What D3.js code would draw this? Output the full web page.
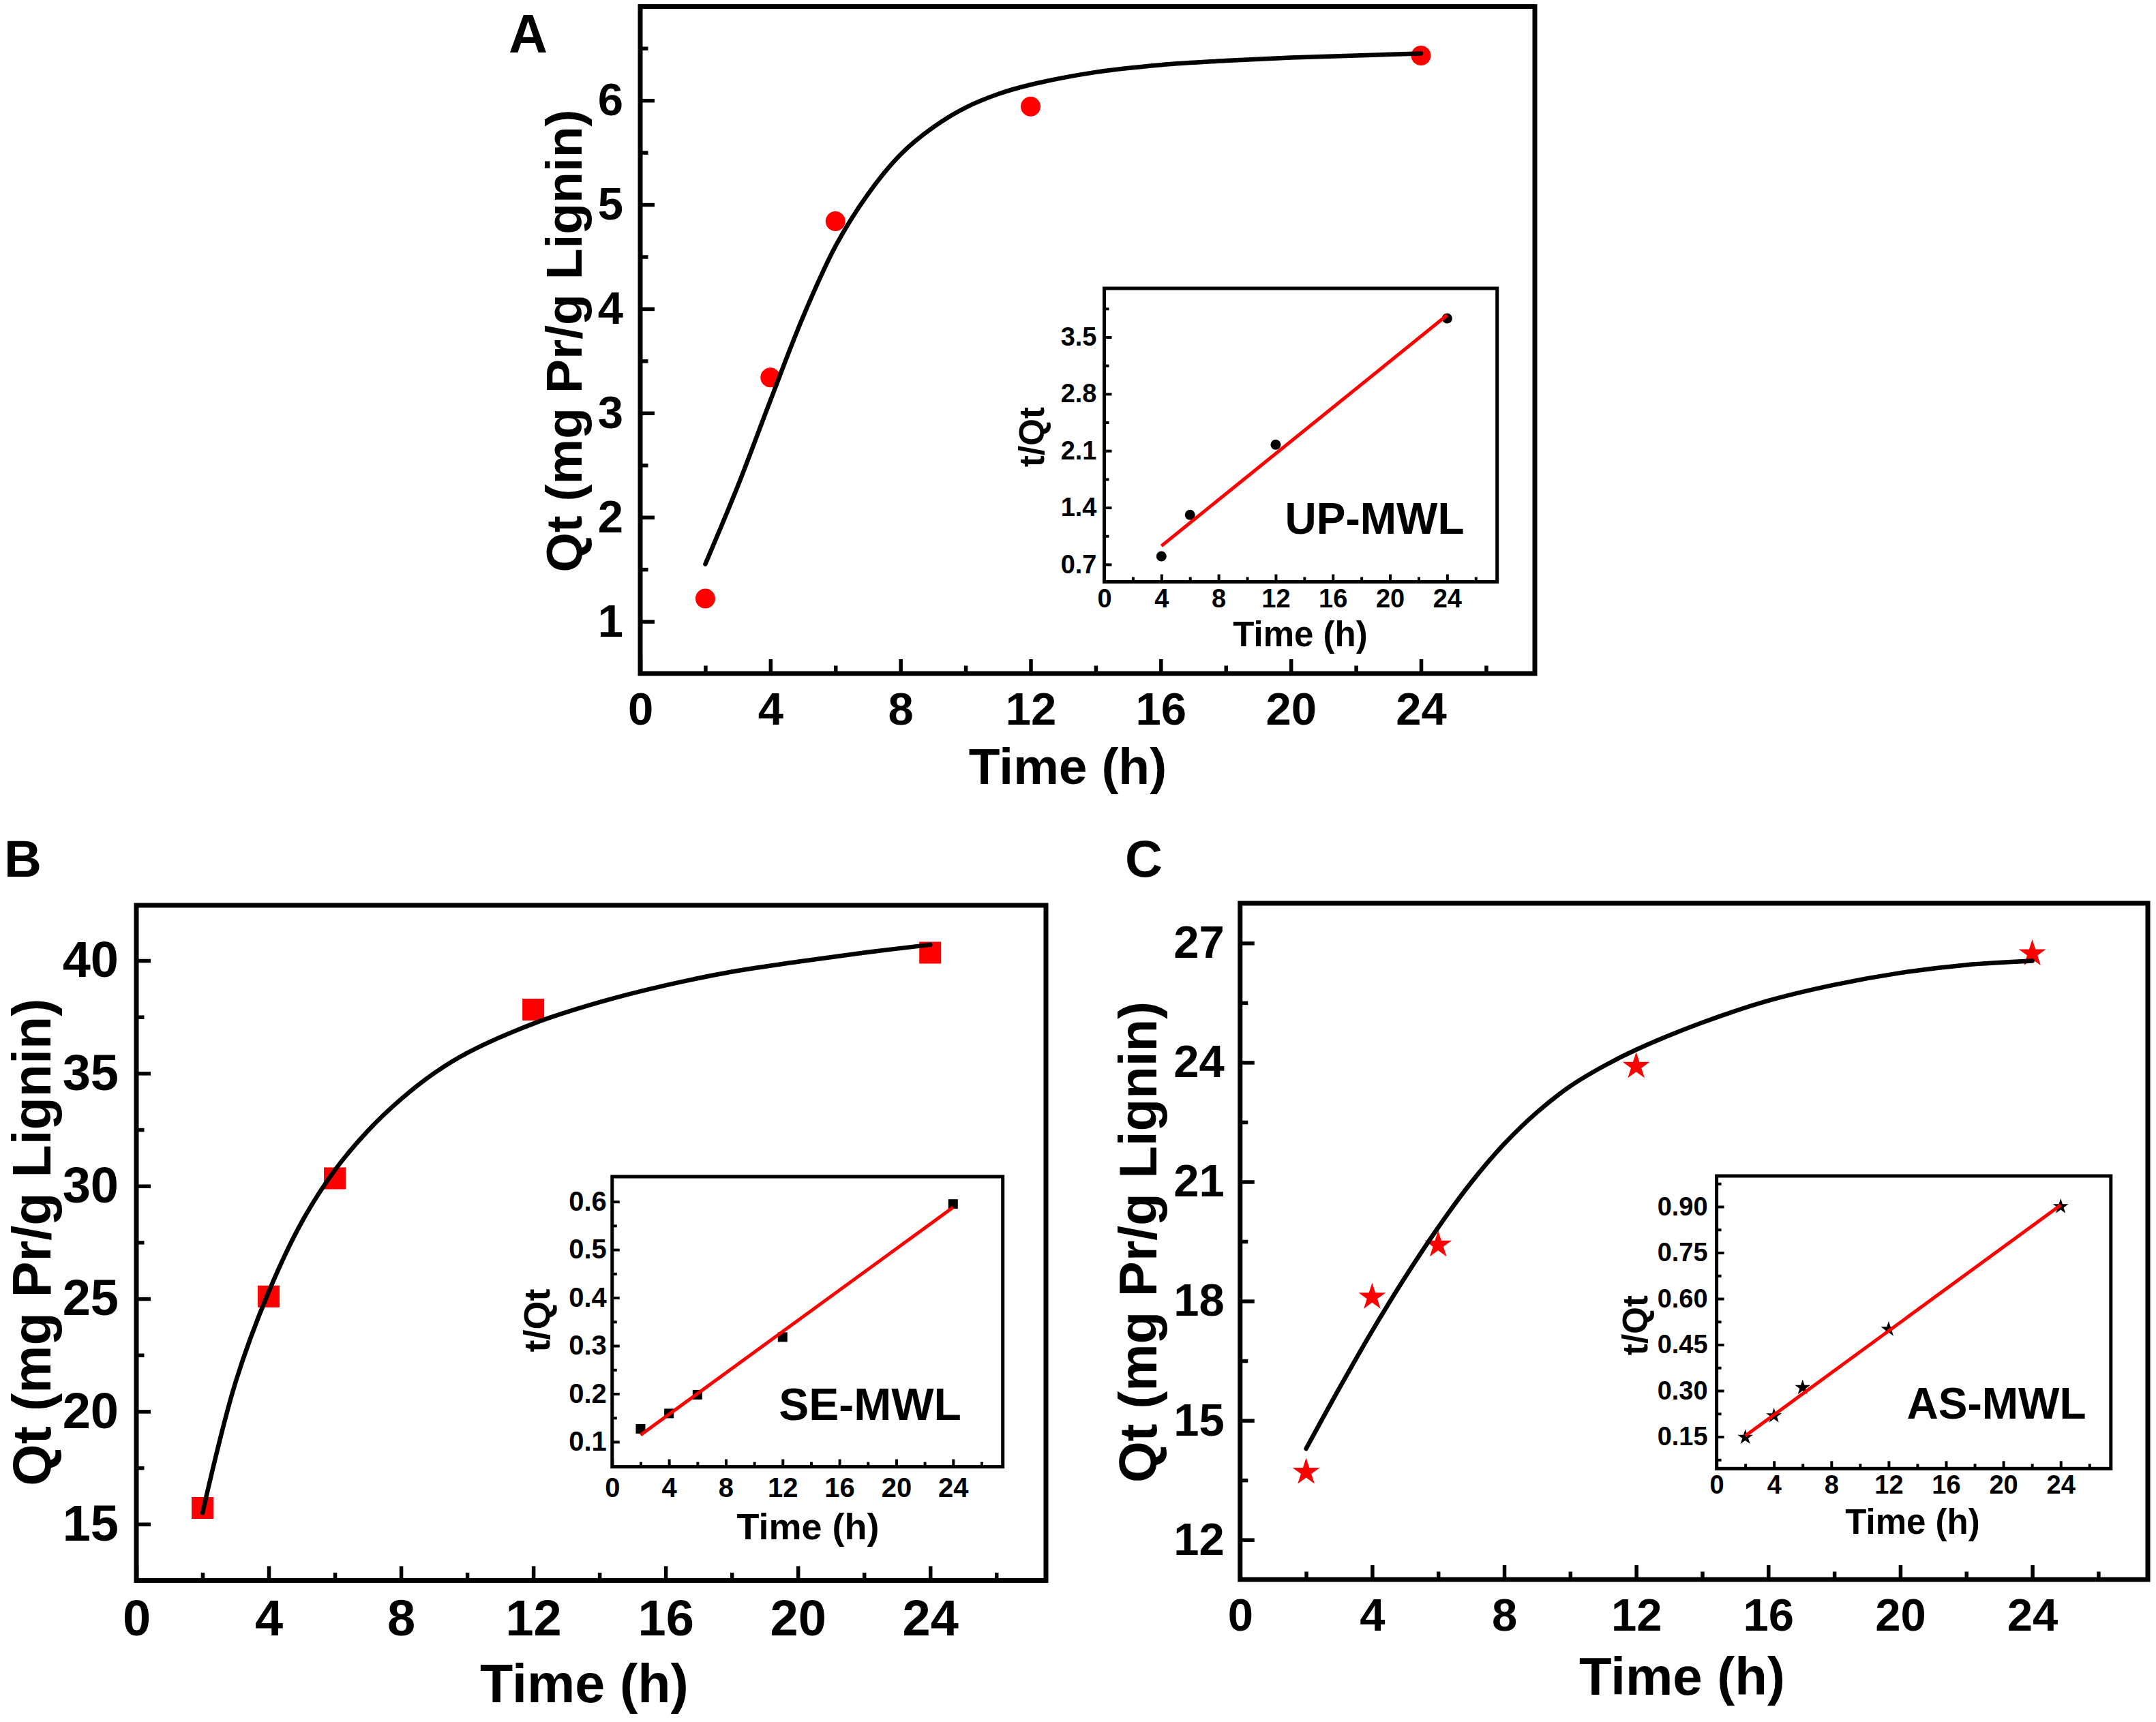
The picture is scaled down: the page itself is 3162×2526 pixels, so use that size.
<!DOCTYPE html>
<html>
<head>
<meta charset="utf-8">
<script src="https://cdn.jsdelivr.net/npm/d3@7"></script>
<style>
  body { margin: 0; background: #fff; }
  svg text { font-family: "Liberation Sans", Arial, Helvetica, sans-serif; font-weight: bold; }
</style>
</head>
<body>
<svg id="chart" width="3162" height="2526"></svg>
<script>
// ---- data ----
// sampling times (h)
const times = [2, 4, 6, 12, 24];
const timeTicks = [0, 4, 8, 12, 16, 20, 24];
const timeMinor = [2, 6, 10, 14, 18, 22, 26];

// Qt (mg Pr/g Lignin) measured points
const qtUP = [1.22, 3.34, 4.84, 5.94, 6.43];
const qtSE = [15.72, 25.1, 30.34, 37.82, 40.35];
const qtAS = [13.7, 18.1, 19.41, 23.9, 26.73];

// fitted curves
const fitTimesUP = [2, 3, 4, 5, 6, 7, 8, 9, 10, 11, 12, 14, 16, 18, 20, 22, 24];
const fitUP = [1.55, 2.3, 3.12, 3.92, 4.6, 5.1, 5.48, 5.74, 5.93, 6.06, 6.15, 6.27, 6.34, 6.38, 6.41, 6.43, 6.45];
const fitTimesSE = [2, 3, 4, 5, 6, 7, 8, 9, 10, 12, 14, 16, 18, 20, 22, 24];
const fitSE = [15.5, 21.3, 25.3, 28.4, 30.7, 32.45, 33.85, 35.0, 35.9, 37.2, 38.15, 38.9, 39.5, 39.95, 40.35, 40.7];
const fitTimesAS = [2, 3, 4, 5, 6, 7, 8, 9, 10, 11, 12, 14, 16, 18, 20, 22, 24];
const fitAS = [14.29, 15.8, 17.25, 18.6, 19.85, 20.98, 21.95, 22.75, 23.4, 23.9, 24.32, 25.0, 25.55, 25.95, 26.25, 26.45, 26.55];

// y ticks of the main panels
const qtTicksUP = [1, 2, 3, 4, 5, 6];
const qtMinorUP = [1.5, 2.5, 3.5, 4.5, 5.5, 6.5];
const qtTicksSE = [15, 20, 25, 30, 35, 40];
const qtMinorSE = [17.5, 22.5, 27.5, 32.5, 37.5];
const qtTicksAS = [12, 15, 18, 21, 24, 27];
const qtMinorAS = [13.5, 16.5, 19.5, 22.5, 25.5];

// insets: t/Qt
const insetTimesUP = [4, 6, 12, 24];
const tqUP = [0.8, 1.31, 2.175, 3.73];
const insetTimesSE = [2, 4, 6, 12, 24];
const tqSE = [0.127, 0.159, 0.198, 0.318, 0.595];
const insetTimesAS = [2, 4, 6, 12, 24];
const tqAS = [0.148, 0.218, 0.31, 0.5, 0.9];

// linear fits (end points)
const lineTimesUP = [4, 24];
const lineUP = [0.927, 3.77];
const lineTimesSE = [2, 24];
const lineSE = [0.114, 0.588];
const lineTimesAS = [2, 24];
const lineAS = [0.153, 0.905];

const tqTicksUP = [0.7, 1.4, 2.1, 2.8, 3.5];
const tqMinorUP = [1.05, 1.75, 2.45, 3.15, 3.85];
const tqTicksSE = [0.1, 0.2, 0.3, 0.4, 0.5, 0.6];
const tqMinorSE = [0.15, 0.25, 0.35, 0.45, 0.55];
const tqTicksAS = [0.15, 0.30, 0.45, 0.60, 0.75, 0.90];
const tqMinorAS = [0.075, 0.225, 0.375, 0.525, 0.675, 0.825, 0.975];

const RED = "#ff0000";
const svg = d3.select("#chart");

// draw inward ticks (major with labels, minor without), and the box
function axes(g, x, y, o) {
    const bottom = y.range()[0], top = y.range()[1];
    const left = x.range()[0], right = x.range()[1];

    const xg = g.append("g").attr("transform", `translate(0,${bottom})`)
        .call(d3.axisBottom(x).tickValues(timeTicks).tickSize(-o.major)
            .tickPadding(o.padX).tickFormat(d3.format("d")));
    const xm = g.append("g").attr("transform", `translate(0,${bottom})`)
        .call(d3.axisBottom(x).tickValues(timeMinor).tickSize(-o.minor).tickFormat(""));
    const yg = g.append("g").attr("transform", `translate(${left},0)`)
        .call(d3.axisLeft(y).tickValues(o.yTicks).tickSize(-o.major)
            .tickPadding(o.padY).tickFormat(d3.format(o.fmt)));
    const ym = g.append("g").attr("transform", `translate(${left},0)`)
        .call(d3.axisLeft(y).tickValues(o.yMinor).tickSize(-o.minor).tickFormat(""));

    [xg, xm, yg, ym].forEach(a => {
        a.select(".domain").remove();
        a.attr("font-family", null).attr("font-size", o.tickFont);
        a.selectAll("line").attr("stroke", "#000").attr("stroke-width", o.tickWidth);
        a.selectAll("text").attr("fill", "#000");
    });

    g.append("rect")
        .attr("x", left).attr("y", top)
        .attr("width", right - left).attr("height", bottom - top)
        .attr("fill", "none").attr("stroke", "#000")
        .attr("stroke-width", o.frame);
}

function titles(g, o) {
    g.append("text")
        .attr("x", o.xTitle[0]).attr("y", o.xTitle[1])
        .attr("text-anchor", "middle").attr("font-size", o.titleFont)
        .text("Time (h)");
    g.append("text")
        .attr("transform", `translate(${o.yTitle[0]},${o.yTitle[1]}) rotate(-90)`)
        .attr("text-anchor", "middle").attr("font-size", o.titleFont)
        .text(o.yLabel);
}

function mainPanel(o) {
    const g = svg.append("g");
    const x = d3.scaleLinear().domain([0, 27.5]).range(o.xRange);
    const y = d3.scaleLinear().domain(o.yDomain).range(o.yRange);

    axes(g, x, y, {
        major: 21, minor: 11.5, tickWidth: 5.5, frame: 7,
        padX: o.padX, padY: o.padY, tickFont: o.tickFont,
        yTicks: o.yTicks, yMinor: o.yMinor, fmt: "d"
    });

    // markers
    g.selectAll(".pt").data(times.map((t, i) => [t, o.values[i]]))
        .enter().append("path")
        .attr("transform", d => `translate(${x(d[0])},${y(d[1])})`)
        .attr("d", d3.symbol().type(o.symbol).size(o.symbolSize))
        .attr("fill", RED);

    // fitted curve on top
    g.append("path")
        .datum(o.fitTimes.map((t, i) => [t, o.fit[i]]))
        .attr("fill", "none").attr("stroke", "#000").attr("stroke-width", 6.5)
        .attr("stroke-linecap", "round")
        .attr("d", d3.line().x(d => x(d[0])).y(d => y(d[1])).curve(d3.curveCatmullRom.alpha(0.5)));

    titles(g, {xTitle: o.xTitle, yTitle: o.yTitle, titleFont: o.titleFont,
        yLabel: "Qt (mg Pr/g Lignin)"});

    g.append("text").attr("x", o.letter[0]).attr("y", o.letter[1])
        .attr("font-size", o.letterFont).text(o.name);
}

function inset(o) {
    const g = svg.append("g");
    const x = d3.scaleLinear().domain([0, 27.5]).range(o.xRange);
    const y = d3.scaleLinear().domain(o.yDomain).range(o.yRange);

    g.append("rect")
        .attr("x", o.xRange[0]).attr("y", o.yRange[1])
        .attr("width", o.xRange[1] - o.xRange[0]).attr("height", o.yRange[0] - o.yRange[1])
        .attr("fill", "#fff");

    axes(g, x, y, {
        major: 11, minor: 7, tickWidth: 4, frame: 5,
        padX: o.padX, padY: o.padY, tickFont: o.tickFont,
        yTicks: o.yTicks, yMinor: o.yMinor, fmt: o.fmt
    });

    g.selectAll(".pt").data(o.times.map((t, i) => [t, o.values[i]]))
        .enter().append("path")
        .attr("transform", d => `translate(${x(d[0])},${y(d[1])})`)
        .attr("d", d3.symbol().type(o.symbol).size(o.symbolSize))
        .attr("fill", "#000");

    g.append("path")
        .datum(o.lineTimes.map((t, i) => [t, o.line[i]]))
        .attr("fill", "none").attr("stroke", RED).attr("stroke-width", 5)
        .attr("d", d3.line().x(d => x(d[0])).y(d => y(d[1])));

    titles(g, {xTitle: o.xTitle, yTitle: o.yTitle, titleFont: o.titleFont, yLabel: "t/Qt"});

    g.append("text").attr("x", o.label[0]).attr("y", o.label[1])
        .attr("text-anchor", "middle").attr("font-size", o.labelFont)
        .text(o.name);
}

// ---- panel A ----
mainPanel({
    name: "A", letter: [746, 77], letterFont: 79,
    xRange: [939, 2251], yDomain: [0.5, 6.9], yRange: [988, 9.6],
    yTicks: qtTicksUP, yMinor: qtMinorUP, padX: 27, padY: 25, tickFont: 67,
    values: qtUP, symbol: d3.symbolCircle, symbolSize: 660,
    fitTimes: fitTimesUP, fit: fitUP,
    xTitle: [1566, 1150], yTitle: [853, 500], titleFont: 75
});
inset({
    name: "UP-MWL", label: [2016, 783], labelFont: 64,
    xRange: [1619.5, 2195.7], yDomain: [0.485, 4.1], yRange: [853.5, 423],
    yTicks: tqTicksUP, yMinor: tqMinorUP, fmt: ".1f", padX: 11, padY: 11, tickFont: 38,
    times: insetTimesUP, values: tqUP, symbol: d3.symbolCircle, symbolSize: 177,
    lineTimes: lineTimesUP, line: lineUP,
    xTitle: [1907, 948], yTitle: [1531, 641], titleFont: 51
});

// ---- panel B ----
mainPanel({
    name: "B", letter: [6, 1286], letterFont: 76,
    xRange: [200, 1534], yDomain: [12.5, 42.45], yRange: [2318.4, 1328],
    yTicks: qtTicksSE, yMinor: qtMinorSE, padX: 28, padY: 26, tickFont: 74,
    values: qtSE, symbol: d3.symbolSquare, symbolSize: 1024,
    fitTimes: fitTimesSE, fit: fitSE,
    xTitle: [857, 2497], yTitle: [74, 1822], titleFont: 79
});
inset({
    name: "SE-MWL", label: [1276, 2083], labelFont: 66,
    xRange: [897.8, 1470.7], yDomain: [0.048, 0.652], yRange: [2151.6, 1726],
    yTicks: tqTicksSE, yMinor: tqMinorSE, fmt: ".1f", padX: 16, padY: 8, tickFont: 40,
    times: insetTimesSE, values: tqSE, symbol: d3.symbolSquare, symbolSize: 196,
    lineTimes: lineTimesSE, line: lineSE,
    xTitle: [1185, 2258], yTitle: [806, 1937], titleFont: 54
});

// ---- panel C ----
mainPanel({
    name: "C", letter: [1650, 1286], letterFont: 76,
    xRange: [1818.75, 3150], yDomain: [11, 28], yRange: [2317, 1325],
    yTicks: qtTicksAS, yMinor: qtMinorAS, padX: 27, padY: 23, tickFont: 67,
    values: qtAS, symbol: d3.symbolStar, symbolSize: 495,
    fitTimes: fitTimesAS, fit: fitAS,
    xTitle: [2467, 2486], yTitle: [1696, 1822], titleFont: 78
});
inset({
    name: "AS-MWL", label: [2928, 2081], labelFont: 64,
    xRange: [2517.6, 3095.8], yDomain: [0.046, 1.0], yRange: [2154.3, 1725],
    yTicks: tqTicksAS, yMinor: tqMinorAS, fmt: ".2f", padX: 10, padY: 13, tickFont: 38,
    times: insetTimesAS, values: tqAS, symbol: d3.symbolStar, symbolSize: 162,
    lineTimes: lineTimesAS, line: lineAS,
    xTitle: [2805, 2250], yTitle: [2416, 1944], titleFont: 51
});
</script>
</body>
</html>
